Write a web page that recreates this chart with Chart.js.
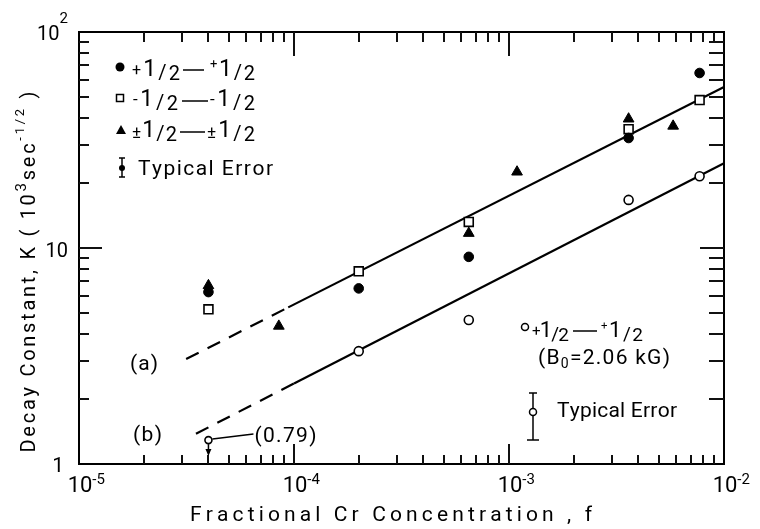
<!DOCTYPE html>
<html>
<head>
<meta charset="utf-8">
<script src="https://cdn.jsdelivr.net/npm/chart.js@4.4.1/dist/chart.umd.min.js"></script>
<style>
  html, body { margin: 0; padding: 0; background: #fff; }
</style>
</head>
<body>
<canvas id="chart" width="760" height="529"></canvas>
<script>
// axis ranges and tick labels
const xRange = [1e-5, 1e-2];
const yRange = [1, 100];
const xMajorTicks = [1e-5, 1e-4, 1e-3, 1e-2];
const xTickExponents = ['-5', '-4', '-3', '-2'];
const yMajorTicks = [1, 10, 100];
const minorMantissas = [2, 3, 4, 5, 6, 7, 8, 9];

// +1/2 -- +1/2 (filled circles)
const plusX = [4e-5, 2e-4, 6.5e-4, 3.6e-3, 7.7e-3];
const plusY = [6.25, 6.5, 9.1, 32.3, 64.6];
// -1/2 -- -1/2 (open squares)
const minusX = [4e-5, 2e-4, 6.5e-4, 3.6e-3, 7.7e-3];
const minusY = [5.2, 7.8, 13.2, 35.5, 48.4];
// ±1/2 -- ±1/2 (filled triangles)
const pmX = [4e-5, 8.5e-5, 6.5e-4, 1.09e-3, 3.6e-3, 5.8e-3];
const pmY = [6.7, 4.35, 11.7, 22.5, 39.6, 36.7];
// +1/2 -- +1/2 at B0 = 2.06 kG (open circles)
const lowFieldX = [4e-5, 2e-4, 6.5e-4, 3.6e-3, 7.7e-3];
const lowFieldY = [1.29, 3.33, 4.64, 16.7, 21.5];

// fitted lines, first segment dashed
const fitAX = [3.15e-5, 9.4e-5, 1e-2];
const fitAY = [3.06, 5.31, 55.7];
const fitBX = [3.5e-5, 1e-4, 1e-2];
const fitBY = [1.38, 2.36, 24.7];

const FONT = 'Roboto, "Liberation Sans", sans-serif';

const toPoints = (xs, ys) => xs.map((v, i) => ({ x: v, y: ys[i] }));

// draws a run of [text, size, dy] parts, char by char so the width can be stretched
function drawParts(ctx, parts, x, y, opt = {}) {
  const chars = [];
  for (const [t, size, dy = 0] of parts) {
    for (const ch of t) chars.push({ ch, size, dy });
  }
  for (const c of chars) {
    ctx.font = c.size + 'px ' + FONT;
    c.w = ctx.measureText(c.ch).width;
  }
  const natural = chars.reduce((s, c) => s + c.w, 0);
  let sp = opt.sp || 0;
  if (opt.width && chars.length > 1) sp = (opt.width - natural) / (chars.length - 1);
  const total = natural + sp * (chars.length - 1);
  let cx = opt.align === 'center' ? x - total / 2 : opt.align === 'right' ? x - total : x;
  ctx.textAlign = 'left';
  ctx.textBaseline = 'alphabetic';
  for (const c of chars) {
    ctx.font = c.size + 'px ' + FONT;
    ctx.fillText(c.ch, cx, y + c.dy);
    cx += c.w + sp;
  }
  return total;
}

function half(sign, signSize, signDy, scale = 1) {
  return [[sign, signSize * scale, signDy], ['1', 23 * scale, -3], ['/', 20 * scale, 0], ['2', 20 * scale, 1]];
}

function seg(ctx, x1, y1, x2, y2) {
  ctx.beginPath();
  ctx.moveTo(x1, y1);
  ctx.lineTo(x2, y2);
  ctx.stroke();
}

// inward ticks on all four sides
const tickPlugin = {
  id: 'tickPlugin',
  afterDraw(chart) {
    const ctx = chart.ctx, a = chart.chartArea, xs = chart.scales.x, ys = chart.scales.y;
    ctx.save();
    ctx.setLineDash([]);
    ctx.strokeStyle = '#111';
    ctx.lineWidth = 2;
    for (const d of xMajorTicks.slice(0, -1)) {
      for (const m of minorMantissas) {
        const tx = Math.round(xs.getPixelForValue(d * m));
        seg(ctx, tx, a.bottom, tx, a.bottom - 9);
        seg(ctx, tx, a.top, tx, a.top + 10);
      }
      if (d > xRange[0]) {
        const tx = Math.round(xs.getPixelForValue(d));
        seg(ctx, tx, a.bottom, tx, a.bottom - 20);
        seg(ctx, tx, a.top, tx, a.top + 24);
      }
    }
    for (const d of yMajorTicks.slice(0, -1)) {
      for (const m of minorMantissas) {
        const ty = Math.round(ys.getPixelForValue(d * m));
        seg(ctx, a.left, ty, a.left + 10, ty);
        seg(ctx, a.right, ty, a.right - 15, ty);
      }
      if (d > yRange[0]) {
        const ty = Math.round(ys.getPixelForValue(d));
        seg(ctx, a.left, ty, a.left + 23, ty);
        seg(ctx, a.right, ty, a.right - 24, ty);
      }
    }
    ctx.restore();
  }
};

const notePlugin = {
  id: 'notePlugin',
  afterDraw(chart) {
    const ctx = chart.ctx, a = chart.chartArea, xs = chart.scales.x, ys = chart.scales.y;
    ctx.save();
    ctx.setLineDash([]);
    ctx.fillStyle = '#000';
    ctx.strokeStyle = '#000';

    // x tick labels 10^-n
    xMajorTicks.forEach((v, i) => {
      const lx = xs.getPixelForValue(v);
      ctx.font = '22px ' + FONT;
      const w = ctx.measureText('10').width;
      drawParts(ctx, [['10', 22], [xTickExponents[i], 15, -8]], lx + 1 - w / 2, a.bottom + 28);
    });
    // y tick labels
    drawParts(ctx, [['1', 21]], a.left - 15, ys.getPixelForValue(1) + 8, { align: 'right' });
    drawParts(ctx, [['10', 20]], a.left - 11, ys.getPixelForValue(10) + 9, { align: 'right' });
    drawParts(ctx, [['10', 20], ['2', 15, -17]], a.left - 11, ys.getPixelForValue(100) + 8, { align: 'right' });

    // axis titles
    drawParts(ctx, [['Fractional Cr Concentration , f', 21]], 190, a.bottom + 57, { width: 402 });
    ctx.save();
    ctx.translate(35, 272);
    ctx.rotate(-Math.PI / 2);
    drawParts(ctx, [['Decay Constant, K ( 10', 20], ['3', 15, -9], ['sec', 20], ['-1/2', 13, -11], [' )', 20]], 0, 0, { align: 'center', width: 361 });
    ctx.restore();

    // legend, upper left
    ctx.lineWidth = 1.5;
    ctx.beginPath(); ctx.arc(120, 67, 4.5, 0, Math.PI * 2); ctx.fill();
    drawParts(ctx, half('+', 16, -4), 132, 79, { width: 48 });
    seg(ctx, 183, 70, 204, 70);
    drawParts(ctx, half('+', 13, -11), 210, 79, { width: 45 });

    ctx.strokeRect(116.5, 94.5, 7, 7);
    drawParts(ctx, half('-', 17, -4), 133, 109, { width: 45 });
    seg(ctx, 182, 101, 208, 101);
    drawParts(ctx, half('-', 17, -4), 210, 109, { width: 45 });

    ctx.beginPath(); ctx.moveTo(121, 125); ctx.lineTo(126, 134); ctx.lineTo(116, 134); ctx.closePath(); ctx.fill();
    drawParts(ctx, half('±', 17, -2), 132, 140, { width: 45 });
    seg(ctx, 180, 132, 205, 132);
    drawParts(ctx, half('±', 17, -2), 207, 140, { width: 48 });

    seg(ctx, 122, 158, 122, 177);
    seg(ctx, 119, 158, 125, 158);
    seg(ctx, 119, 177, 125, 177);
    ctx.beginPath(); ctx.arc(122, 168, 3, 0, Math.PI * 2); ctx.fill();
    drawParts(ctx, [['Typical Error', 21]], 138, 175, { width: 135 });

    // legend, lower right
    ctx.fillStyle = '#fff';
    ctx.beginPath(); ctx.arc(525, 327, 3.5, 0, Math.PI * 2); ctx.fill(); ctx.stroke();
    ctx.fillStyle = '#000';
    drawParts(ctx, half('+', 16, -4, 0.95), 532, 340, { width: 37 });
    seg(ctx, 573, 331, 597, 331);
    drawParts(ctx, half('+', 12, -11, 0.95), 601, 340, { width: 42 });
    drawParts(ctx, [['(B', 21], ['0', 14, 4], ['=2.06 kG)', 21]], 538, 364, { width: 132 });

    seg(ctx, 533, 393, 533, 440);
    seg(ctx, 529, 393, 537, 393);
    seg(ctx, 527, 440, 539, 440);
    ctx.fillStyle = '#fff';
    ctx.beginPath(); ctx.arc(533, 412, 3.5, 0, Math.PI * 2); ctx.fill(); ctx.stroke();
    ctx.fillStyle = '#000';
    drawParts(ctx, [['Typical Error', 21]], 557, 417, { width: 120 });

    // line labels
    drawParts(ctx, [['(a)', 21]], 130, 370, { width: 28 });
    drawParts(ctx, [['(b)', 21]], 133, 441, { width: 29 });

    // (0.79) note with arrow on the lowest open circle
    const px = xs.getPixelForValue(lowFieldX[0]);
    const py = ys.getPixelForValue(lowFieldY[0]);
    seg(ctx, px + 4, py - 1, px + 45, py - 6);
    drawParts(ctx, [['(0.79)', 21]], px + 46, py + 2, { width: 62 });
    seg(ctx, px, py + 4, px, py + 10);
    ctx.beginPath(); ctx.moveTo(px - 3, py + 9); ctx.lineTo(px + 3, py + 9); ctx.lineTo(px, py + 16); ctx.closePath(); ctx.fill();

    ctx.restore();
  }
};

const hiddenTicks = { display: false };
const noGrid = { display: false, drawTicks: false };
const frame = { display: true, color: '#000', width: 2 };

new Chart(document.getElementById('chart'), {
  type: 'scatter',
  data: {
    datasets: [
      {
        label: '+1/2 — +1/2',
        data: toPoints(plusX, plusY),
        pointStyle: 'circle',
        pointRadius: 4.8,
        backgroundColor: '#000',
        borderColor: '#000',
        borderWidth: 1,
      },
      {
        label: '-1/2 — -1/2',
        data: toPoints(minusX, minusY),
        pointStyle: 'rect',
        pointRadius: 6.3,
        backgroundColor: '#fff',
        borderColor: '#000',
        borderWidth: 1.6,
      },
      {
        label: '±1/2 — ±1/2',
        data: toPoints(pmX, pmY),
        pointStyle: 'triangle',
        pointRadius: 6.2,
        backgroundColor: '#000',
        borderColor: '#000',
        borderWidth: 1,
      },
      {
        label: '+1/2 — +1/2 (B0=2.06 kG)',
        data: toPoints(lowFieldX, lowFieldY),
        pointStyle: 'circle',
        pointRadius: c => (c.dataIndex === 0 ? 3.5 : 4.5),
        backgroundColor: '#fff',
        borderColor: '#000',
        borderWidth: 1.6,
      },
      {
        label: '(a)',
        data: toPoints(fitAX, fitAY),
        showLine: true,
        pointRadius: 0,
        borderColor: '#000',
        borderWidth: 2.2,
        segment: { borderDash: c => (c.p0DataIndex === 0 ? [14, 10] : undefined) },
      },
      {
        label: '(b)',
        data: toPoints(fitBX, fitBY),
        showLine: true,
        pointRadius: 0,
        borderColor: '#000',
        borderWidth: 2.2,
        segment: { borderDash: c => (c.p0DataIndex === 0 ? [14, 10] : undefined) },
      },
    ],
  },
  options: {
    responsive: false,
    animation: false,
    layout: { padding: { left: 79, right: 36, top: 32, bottom: 65 } },
    plugins: { legend: { display: false }, tooltip: { enabled: false } },
    scales: {
      x: { type: 'logarithmic', position: 'bottom', min: xRange[0], max: xRange[1], ticks: hiddenTicks, grid: noGrid, border: frame },
      x2: { type: 'logarithmic', position: 'top', min: xRange[0], max: xRange[1], ticks: hiddenTicks, grid: noGrid, border: frame },
      y: { type: 'logarithmic', position: 'left', min: yRange[0], max: yRange[1], ticks: hiddenTicks, grid: noGrid, border: frame },
      y2: { type: 'logarithmic', position: 'right', min: yRange[0], max: yRange[1], ticks: hiddenTicks, grid: noGrid, border: frame },
    },
  },
  plugins: [tickPlugin, notePlugin],
});
</script>
</body>
</html>
